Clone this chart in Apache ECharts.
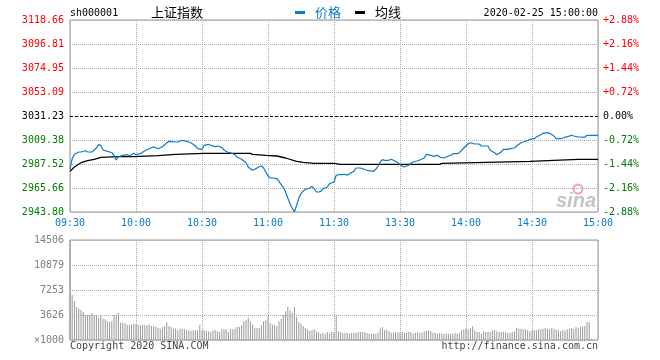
<!DOCTYPE html>
<html><head><meta charset="utf-8">
<script src="https://cdn.jsdelivr.net/npm/echarts@6/dist/echarts.min.js"></script>
<style>html,body{margin:0;padding:0;background:#fff}#c{width:660px;height:360px}</style>
</head><body><div id="c"></div>
<script>
// ---- data ----
const prevClose = 3031.23;
const priceTop = 3118.66;
const timeLabels = ['09:30','10:00','10:30','11:00','11:30','13:30','14:00','14:30','15:00'];
const leftLabels = ['2943.80','2965.66','2987.52','3009.38','3031.23','3053.09','3074.95','3096.81','3118.66'];
const rightLabels = ['-2.88%','-2.16%','-1.44%','-0.72%','0.00%','+0.72%','+1.44%','+2.16%','+2.88%'];
const volLabels = ['\u00d71000','3626','7253','10879','14506'];
const volMax = 14506;

const priceMinutes = [0,1,2,4,5,7,8,10,12,13,14,15,17,19,20,21,22,24,26,27,29,30,32,34,36,38,40,42,43,45,48,49,51,53,55,57,58,60,61,63,64,66,67,69,70,72,73,75,76,78,80,81,83,84,86,87,88,89,90,91,92,94,95,96,97,98,99,100,101,102,103,104,105,106,107,109,110,111,112,113,114,115,117,118,120,121,122,123,125,126,127,129,130,132,133,135,136,138,139,140,141,142,143,145,146,148,149,151,152,154,155,156,158,159,161,162,164,165,167,168,170,171,173,174,176,177,179,181,182,184,186,187,190,191,193,194,196,197,199,200,202,203,205,206,208,209,211,212,214,215,217,218,220,221,223,224,226,228,229,231,232,234,235,237,239,240];
const prices = [2982.96,2992.34,2996.35,2998.44,2998.44,2999.62,2998.44,2998.44,3002.08,3005.09,3004.54,3000.26,2999.08,2997.80,2995.43,2991.15,2994.16,2995.43,2995.98,2994.80,2997.26,2995.98,2996.89,2999.62,3001.45,3003.27,3001.45,3003.27,3005.09,3008.19,3007.55,3007.55,3009.10,3008.19,3006.91,3003.91,3001.45,3000.90,3004.54,3005.45,3004.54,3003.27,3003.91,3002.72,3000.26,2997.80,2997.80,2995.98,2993.61,2991.79,2988.69,2984.78,2981.77,2982.68,2985.05,2985.69,2983.87,2980.22,2976.58,2974.76,2974.76,2974.12,2971.75,2968.66,2966.29,2962.01,2956.54,2951.35,2947.43,2943.80,2949.89,2956.54,2960.46,2962.92,2964.47,2965.65,2967.20,2965.01,2962.01,2962.01,2962.64,2965.01,2966.56,2969.57,2971.12,2977.22,2977.76,2977.76,2978.13,2977.22,2978.68,2980.86,2983.87,2983.87,2983.23,2981.77,2981.41,2980.86,2982.68,2985.69,2989.33,2991.43,2990.88,2990.88,2991.79,2989.97,2988.69,2985.42,2984.78,2986.33,2988.15,2989.33,2990.52,2991.15,2992.98,2996.35,2995.43,2994.52,2995.43,2993.89,2992.98,2993.89,2995.43,2996.89,2996.89,2997.80,3002.08,3006.00,3006.91,3005.73,3005.73,3003.91,3003.91,2999.99,2997.80,2995.98,2998.44,3000.90,3000.90,3001.45,3002.08,3003.91,3006.91,3007.55,3008.73,3010.01,3010.55,3012.10,3014.20,3015.47,3016.02,3015.47,3013.01,3010.55,3010.55,3011.19,3012.38,3013.65,3013.01,3012.10,3012.10,3011.83,3013.65,3013.65,3013.65,3013.65];

const avgMinutes = [0,2,5,8,11,14,22,29,40,48,61,82,83,89,94,98,103,106,111,120,123,168,169,189,209,220,231,240];
const avgValues = [2980.86,2984.78,2988.69,2990.52,2991.79,2993.61,2994.16,2994.16,2995.07,2996.35,2997.26,2997.26,2996.35,2995.43,2994.80,2992.98,2989.97,2989.06,2988.15,2988.15,2987.24,2987.24,2988.15,2989.06,2989.97,2990.88,2991.79,2991.79];

const volumes = [14506,
6570,5657,4787,4545,4352,4062,3578,3578,3578,3916,3578,3578,3191,3481,3094,2997,2707,2611,2707,3578,
3578,3916,2514,2514,2417,2224,2224,2224,2321,2321,2224,2127,2224,2127,2127,2224,2031,2031,1886,1741,
1644,1886,2031,2611,2031,1886,1644,1644,1402,1644,1644,1547,1402,1402,1305,1402,1402,1402,2224,1450,
1402,1305,1260,1160,1402,1402,1260,1160,1547,1547,1547,1160,1547,1547,1644,1886,1886,2127,2707,2852,
3191,2707,2224,1741,1741,1741,2127,2707,2852,3336,2514,2224,2224,1983,2707,3094,3578,4158,4787,4352,
3964,4787,3336,2611,2369,2031,1741,1547,1305,1402,1547,1260,1160,919,1015,919,1160,919,1160,1160,
3578,
1257,1160,1015,1015,1015,919,1015,1015,1064,1160,1160,
1160,1160,1015,919,919,919,919,1064,1644,1886,1402,1499,1257,1064,1064,1160,1064,1160,1160,1015,
1064,1160,1160,919,1064,1160,1064,1064,1257,1305,1402,1305,1064,1064,919,1015,919,
919,919,919,919,
919,1064,919,1064,1402,1547,1644,1547,1741,1983,1402,1160,1160,919,1257,1160,1160,1160,1402,1402,1257,1160,
1160,1160,1160,
1015,1015,1160,1257,1789,1644,1644,1547,1547,1402,1257,1402,1402,1402,
1547,1547,1644,1741,1644,
1547,1741,1644,1499,1402,1257,
1402,1402,1547,1644,1741,
1644,1886,1789,1886,1983,2031,2611,2611,
193,0,0,0];

// ---- chart ----
const BLUE = '#0b7ac8', RED = '#ff0000', GREEN = '#008000', GRID = '#aaaaaa', BORDER = '#999999';
const MONO = '"DejaVu Sans Mono", "Liberation Mono", monospace';
const CJK = '"Noto Sans CJK SC", sans-serif';
const yMax = (priceTop - prevClose) / prevClose * 100;
const yInt = yMax / 4;
const toPct = p => (p - prevClose) / prevClose * 100;
const labelIdx = v => Math.round((Number(v) + yMax) / yInt);
const labelColor = (v) => { const k = labelIdx(v); return k > 4 ? RED : (k === 4 ? '#000' : GREEN); };

const chart = echarts.init(document.getElementById('c'), null, {renderer: 'canvas'});
chart.setOption({
  animation: false,
  backgroundColor: '#fff',
  grid: [
    {left: 70, top: 20, width: 528, height: 192, show: true, borderColor: BORDER, borderWidth: 1, backgroundColor: 'transparent'},
    {left: 70, top: 240, width: 528, height: 100, show: true, borderColor: BORDER, borderWidth: 1, backgroundColor: 'transparent'}
  ],
  xAxis: [
    {type: 'value', gridIndex: 0, min: 0, max: 240, interval: 30,
     axisLine: {show: false}, axisTick: {show: false},
     splitLine: {show: true, lineStyle: {color: GRID, type: 'dotted'}},
     axisLabel: {margin: 6, color: BLUE, fontFamily: MONO, fontSize: 10,
       formatter: v => timeLabels[Math.round(v / 30)]}},
    {type: 'value', gridIndex: 1, min: 0, max: 240, interval: 30,
     axisLine: {show: false}, axisTick: {show: false}, axisLabel: {show: false},
     splitLine: {show: true, lineStyle: {color: GRID, type: 'dotted'}}}
  ],
  yAxis: [
    {type: 'value', gridIndex: 0, min: -yMax, max: yMax, interval: yInt, position: 'left',
     axisLine: {show: false}, axisTick: {show: false},
     splitLine: {show: true, lineStyle: {color: GRID, type: 'dotted'}},
     axisLabel: {margin: 6, fontFamily: MONO, fontSize: 10, color: labelColor,
       formatter: v => leftLabels[labelIdx(v)]}},
    {type: 'value', gridIndex: 0, min: -yMax, max: yMax, interval: yInt, position: 'right',
     axisLine: {show: false}, axisTick: {show: false}, splitLine: {show: false},
     axisLabel: {margin: 5, fontFamily: MONO, fontSize: 10, color: labelColor,
       formatter: v => rightLabels[labelIdx(v)]}},
    {type: 'value', gridIndex: 1, min: 0, max: volMax, interval: volMax / 4,
     axisLine: {show: false}, axisTick: {show: false},
     splitLine: {show: true, lineStyle: {color: GRID, type: 'dotted'}},
     axisLabel: {margin: 6, fontFamily: MONO, fontSize: 10, color: '#808080',
       formatter: v => volLabels[Math.round(v / (volMax / 4))]}}
  ],
  series: [
    {type: 'bar', xAxisIndex: 1, yAxisIndex: 2, barWidth: 1, itemStyle: {color: '#999999'},
     data: volumes.map((v, i) => [i, v]), silent: true},
    {type: 'line', name: '均线', xAxisIndex: 0, yAxisIndex: 0, showSymbol: false, symbol: 'none',
     lineStyle: {color: '#000', width: 1.3}, data: avgMinutes.map((m, i) => [m, toPct(avgValues[i])]), silent: true},
    {type: 'line', name: '价格', xAxisIndex: 0, yAxisIndex: 0, showSymbol: false, symbol: 'none',
     lineStyle: {color: BLUE, width: 1.2}, data: priceMinutes.map((m, i) => [m, toPct(prices[i])]), silent: true,
     markLine: {silent: true, symbol: 'none', label: {show: false},
       lineStyle: {color: '#000', width: 1, type: [3, 2]}, data: [{yAxis: 0}]}}
  ],
  graphic: [
    {type: 'text', x: 70, y: 13, style: {text: 'sh000001', font: '10px ' + MONO, fill: '#000', verticalAlign: 'middle'}},
    {type: 'text', x: 151, y: 12.5, style: {text: '上证指数', font: '13px ' + CJK, fill: '#000', verticalAlign: 'middle'}},
    {type: 'rect', shape: {x: 295, y: 11, width: 10, height: 3}, style: {fill: BLUE}},
    {type: 'text', x: 315, y: 12.5, style: {text: '价格', font: '13px ' + CJK, fill: BLUE, verticalAlign: 'middle'}},
    {type: 'rect', shape: {x: 355, y: 11, width: 10, height: 3}, style: {fill: '#000'}},
    {type: 'text', x: 375, y: 12.5, style: {text: '均线', font: '13px ' + CJK, fill: '#000', verticalAlign: 'middle'}},
    {type: 'text', x: 598, y: 13, style: {text: '2020-02-25 15:00:00', font: '10px ' + MONO, fill: '#000', align: 'right', verticalAlign: 'middle'}},
    {type: 'text', x: 70, y: 346.5, style: {text: 'Copyright 2020 SINA.COM', font: '10px ' + MONO, fill: '#444', verticalAlign: 'middle'}},
    {type: 'text', x: 598, y: 346.5, style: {text: 'http://finance.sina.com.cn', font: '10px ' + MONO, fill: '#444', align: 'right', verticalAlign: 'middle'}},
    {type: 'circle', shape: {cx: 578, cy: 189, r: 4.5}, style: {fill: 'none', stroke: '#f2a5a5', lineWidth: 2}},
    {type: 'text', x: 596, y: 201, style: {text: 'sina', font: 'italic bold 20px "Liberation Sans", sans-serif', fill: '#c4c4c4', align: 'right', verticalAlign: 'middle'}}
  ]
});
</script></body></html>
